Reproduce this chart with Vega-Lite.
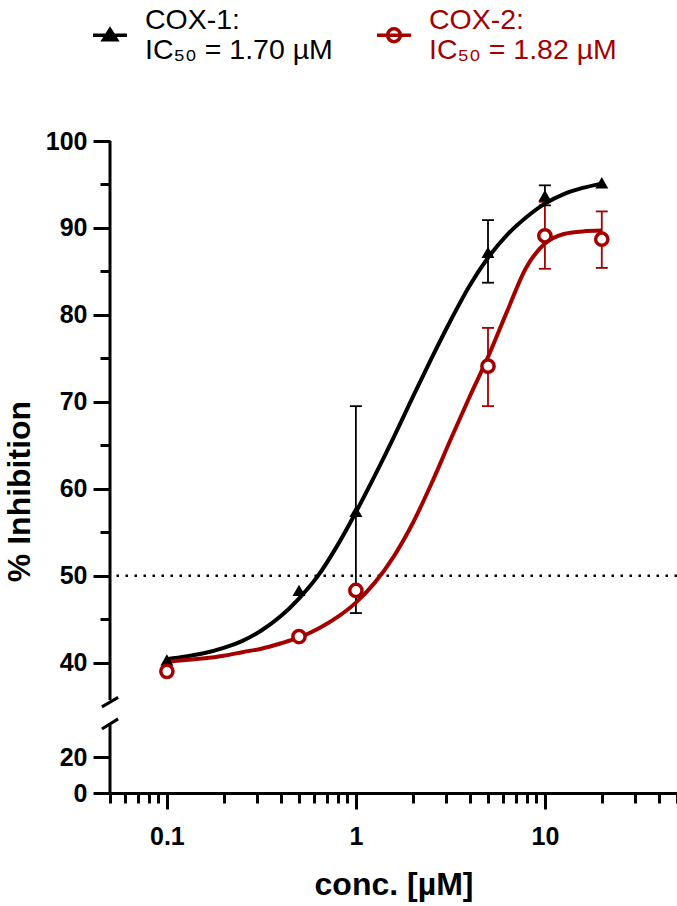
{
  "$schema": "https://vega.github.io/schema/vega-lite/v6.json",
  "autosize": {"type": "none"},
  "padding": {"left": 110, "top": 141, "right": 0, "bottom": 113},
  "width": 567,
  "height": 652,
  "background": "white",
  "config": {
    "view": {"stroke": null},
    "font": "Liberation Sans",
    "axis": {
      "domainColor": "black", "domainWidth": 3, "tickColor": "black", "tickWidth": 3,
      "labelColor": "black", "labelFont": "Liberation Sans", "labelFontWeight": "bold", "labelFontSize": 25,
      "titleFont": "Liberation Sans", "titleFontWeight": "bold", "titleFontSize": 32, "titleColor": "black",
      "grid": false
    }
  },
  "datasets": {
    "curves": [
      {"series": "COX-1", "conc": 0.1, "value": 40.4},
      {"series": "COX-1", "conc": 0.1259, "value": 40.7},
      {"series": "COX-1", "conc": 0.1585, "value": 41.1},
      {"series": "COX-1", "conc": 0.1995, "value": 41.7},
      {"series": "COX-1", "conc": 0.2512, "value": 42.5},
      {"series": "COX-1", "conc": 0.3162, "value": 43.7},
      {"series": "COX-1", "conc": 0.3981, "value": 45.3},
      {"series": "COX-1", "conc": 0.5012, "value": 47.4},
      {"series": "COX-1", "conc": 0.631, "value": 50.0},
      {"series": "COX-1", "conc": 0.7943, "value": 53.4},
      {"series": "COX-1", "conc": 1.0, "value": 57.3},
      {"series": "COX-1", "conc": 1.259, "value": 61.5},
      {"series": "COX-1", "conc": 1.585, "value": 65.9},
      {"series": "COX-1", "conc": 1.995, "value": 70.5},
      {"series": "COX-1", "conc": 2.512, "value": 75.0},
      {"series": "COX-1", "conc": 3.162, "value": 79.3},
      {"series": "COX-1", "conc": 3.981, "value": 83.3},
      {"series": "COX-1", "conc": 5.012, "value": 86.6},
      {"series": "COX-1", "conc": 6.31, "value": 89.2},
      {"series": "COX-1", "conc": 7.943, "value": 91.2},
      {"series": "COX-1", "conc": 10.0, "value": 92.8},
      {"series": "COX-1", "conc": 12.59, "value": 93.9},
      {"series": "COX-1", "conc": 15.85, "value": 94.6},
      {"series": "COX-1", "conc": 20.0, "value": 95.1},
      {"series": "COX-2", "conc": 0.1, "value": 40.1},
      {"series": "COX-2", "conc": 0.1259, "value": 40.3},
      {"series": "COX-2", "conc": 0.1585, "value": 40.5},
      {"series": "COX-2", "conc": 0.1995, "value": 40.8},
      {"series": "COX-2", "conc": 0.2512, "value": 41.2},
      {"series": "COX-2", "conc": 0.3162, "value": 41.6},
      {"series": "COX-2", "conc": 0.3981, "value": 42.2},
      {"series": "COX-2", "conc": 0.5012, "value": 42.9},
      {"series": "COX-2", "conc": 0.631, "value": 43.9},
      {"series": "COX-2", "conc": 0.7943, "value": 45.2},
      {"series": "COX-2", "conc": 1.0, "value": 46.9},
      {"series": "COX-2", "conc": 1.259, "value": 49.2},
      {"series": "COX-2", "conc": 1.585, "value": 52.2},
      {"series": "COX-2", "conc": 1.995, "value": 56.0},
      {"series": "COX-2", "conc": 2.512, "value": 60.6},
      {"series": "COX-2", "conc": 3.162, "value": 65.6},
      {"series": "COX-2", "conc": 3.981, "value": 70.5},
      {"series": "COX-2", "conc": 5.012, "value": 75.2},
      {"series": "COX-2", "conc": 6.31, "value": 80.4},
      {"series": "COX-2", "conc": 7.943, "value": 85.4},
      {"series": "COX-2", "conc": 10.0, "value": 88.2},
      {"series": "COX-2", "conc": 12.59, "value": 89.3},
      {"series": "COX-2", "conc": 15.85, "value": 89.6},
      {"series": "COX-2", "conc": 20.0, "value": 89.7}
    ],
    "points": [
      {"series": "COX-1", "conc": 0.1, "value": 40.3},
      {"series": "COX-1", "conc": 0.5, "value": 48.3},
      {"series": "COX-1", "conc": 1, "value": 57.4},
      {"series": "COX-1", "conc": 5, "value": 87.2},
      {"series": "COX-1", "conc": 10, "value": 93.7},
      {"series": "COX-1", "conc": 20, "value": 95.2},
      {"series": "COX-2", "conc": 0.1, "value": 39.0},
      {"series": "COX-2", "conc": 0.5, "value": 43.0},
      {"series": "COX-2", "conc": 1, "value": 48.3},
      {"series": "COX-2", "conc": 5, "value": 74.1},
      {"series": "COX-2", "conc": 10, "value": 89.1},
      {"series": "COX-2", "conc": 20, "value": 88.7}
    ],
    "errors": [
      {"series": "COX-1", "conc": 1, "lo": 45.7, "hi": 69.5},
      {"series": "COX-1", "conc": 5, "lo": 83.7, "hi": 90.9},
      {"series": "COX-1", "conc": 10, "lo": 92.6, "hi": 94.9},
      {"series": "COX-2", "conc": 5, "lo": 69.5, "hi": 78.5},
      {"series": "COX-2", "conc": 10, "lo": 85.3, "hi": 93.0},
      {"series": "COX-2", "conc": 20, "lo": 85.4, "hi": 91.9}
    ]
  },
  "layer": [
    {
      "data": {"values": [{}]},
      "mark": {"type": "rule", "strokeDash": [2.5, 6.5], "strokeWidth": 2.5, "color": "black"},
      "encoding": {
        "y": {"datum": 50, "type": "quantitative"}
      }
    },
    {
      "data": {"name": "errors"},
      "mark": {"type": "rule", "strokeWidth": 1.8},
      "encoding": {
        "x": {"field": "conc", "type": "quantitative"},
        "y": {"field": "lo", "type": "quantitative"},
        "y2": {"field": "hi"},
        "color": {"field": "series", "type": "nominal"}
      }
    },
    {
      "data": {"name": "errors"},
      "transform": [{"fold": ["lo", "hi"], "as": ["end", "v"]}],
      "mark": {"type": "rule", "strokeWidth": 1.8, "xOffset": -6, "x2Offset": 6},
      "encoding": {
        "x": {"field": "conc", "type": "quantitative"},
        "x2": {"field": "conc"},
        "y": {"field": "v", "type": "quantitative"},
        "color": {"field": "series", "type": "nominal"}
      }
    },
    {
      "data": {"name": "curves"},
      "mark": {"type": "line", "strokeWidth": 4, "interpolate": "monotone"},
      "encoding": {
        "x": {
          "field": "conc", "type": "quantitative", "title": "conc. [µM]",
          "scale": {"type": "log", "domain": [0.05, 50], "nice": false},
          "axis": {
            "values": [0.05, 0.06, 0.07, 0.08, 0.09, 0.1, 0.2, 0.3, 0.4, 0.5, 0.6, 0.7, 0.8, 0.9, 1, 2, 3, 4, 5, 6, 7, 8, 9, 10, 20, 30, 40, 50],
            "format": "~g",
            "labelExpr": "(datum.value == 0.1 || datum.value == 1 || datum.value == 10) ? datum.label : ''",
            "tickSize": {"condition": {"test": "datum.value == 0.1 || datum.value == 1 || datum.value == 10", "value": 16}, "value": 10},
            "labelPadding": 15,
            "titlePadding": 20
          }
        },
        "y": {
          "field": "value", "type": "quantitative", "title": "% Inhibition",
          "scale": {"domain": [0, 20, 35.7, 100], "range": [652, 616, 559, 0], "nice": false, "zero": false},
          "axis": {
            "values": [0, 20, 40, 45, 50, 55, 60, 65, 70, 75, 80, 85, 90, 95, 100],
            "domain": false,
            "labelExpr": "datum.value % 10 === 0 ? datum.label : ''",
            "tickSize": {"condition": {"test": "datum.value % 10 === 0", "value": 17}, "value": 10},
            "labelPadding": 6,
            "titlePadding": 9,
            "titleY": 350
          }
        },
        "color": {
          "field": "series", "type": "nominal",
          "scale": {"domain": ["COX-1", "COX-2"], "range": ["black", "#a50000"]},
          "legend": {
            "orient": "none", "legendX": -19, "legendY": -140,
            "direction": "horizontal", "title": null,
            "symbolSize": 1156, "symbolStrokeWidth": 3.5,
            "labelFont": "Liberation Sans", "labelFontSize": 28.5, "labelFontWeight": "normal",
            "labelBaseline": "middle",
            "labelOffset": 16, "columnPadding": 37, "labelLimit": 400,
            "labelExpr": "datum.label == 'COX-1' ? ['COX-1:', 'IC₅₀ = 1.70 µM'] : ['COX-2:', 'IC₅₀ = 1.82 µM']",
            "encode": {
              "symbols": {"update": {
                "shape": {"signal": "datum.value == 'COX-1' ? 'M-1,0.88H1M0,0.54L0.38,1.14L-0.38,1.14ZM0,0.78L0.13,1.03L-0.13,1.03Z' : 'M-1,0.88H1M0.38,0.88A0.38,0.38 0 1,1 -0.38,0.88A0.38,0.38 0 1,1 0.38,0.88'"},
                "fill": {"value": "transparent"}
              }},
              "labels": {"update": {
                "fill": {"signal": "datum.value == 'COX-1' ? 'black' : '#a50000'"},
                "lineHeight": {"value": 30}
              }}
            }
          }
        }
      }
    },
    {
      "data": {"name": "points"},
      "transform": [{"filter": "datum.series == 'COX-1'"}],
      "mark": {"type": "point", "shape": "triangle-up", "filled": true, "size": 170, "color": "black", "opacity": 1},
      "encoding": {
        "x": {"field": "conc", "type": "quantitative"},
        "y": {"field": "value", "type": "quantitative"}
      }
    },
    {
      "data": {"name": "points"},
      "transform": [{"filter": "datum.series == 'COX-2'"}],
      "mark": {"type": "point", "shape": "circle", "filled": false, "size": 150, "stroke": "#a50000", "strokeWidth": 3.5, "fill": "white", "fillOpacity": 1, "opacity": 1},
      "encoding": {
        "x": {"field": "conc", "type": "quantitative"},
        "y": {"field": "value", "type": "quantitative"}
      }
    },
    {
      "data": {"values": [{}]},
      "mark": {"type": "rule", "strokeWidth": 3, "color": "black", "clip": false},
      "encoding": {
        "x": {"datum": 0.05, "type": "quantitative"},
        "y": {"datum": 35.7, "type": "quantitative"},
        "y2": {"datum": 100}
      }
    },
    {
      "data": {"values": [{}]},
      "mark": {"type": "rule", "strokeWidth": 3, "color": "black", "clip": false},
      "encoding": {
        "x": {"datum": 0.05, "type": "quantitative"},
        "y": {"datum": 0, "type": "quantitative"},
        "y2": {"datum": 28.8}
      }
    },
    {
      "data": {"values": [{}]},
      "mark": {"type": "rule", "strokeWidth": 3, "color": "black", "clip": false},
      "encoding": {
        "x": {"datum": 0.0453, "type": "quantitative"},
        "x2": {"datum": 0.0552},
        "y": {"datum": 33.8, "type": "quantitative"},
        "y2": {"datum": 36.0}
      }
    },
    {
      "data": {"values": [{}]},
      "mark": {"type": "rule", "strokeWidth": 3, "color": "black", "clip": false},
      "encoding": {
        "x": {"datum": 0.0453, "type": "quantitative"},
        "x2": {"datum": 0.0552},
        "y": {"datum": 27.7, "type": "quantitative"},
        "y2": {"datum": 30.5}
      }
    }
  ]
}
